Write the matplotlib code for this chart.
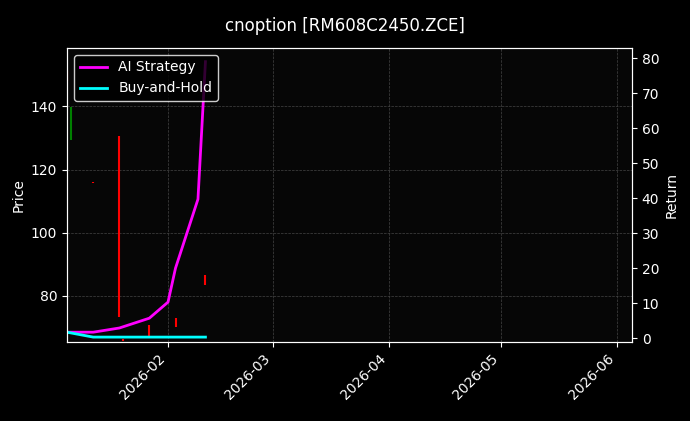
import matplotlib
matplotlib.use("Agg")
import matplotlib.pyplot as plt
import matplotlib.dates as mdates
import pandas as pd

candle_dates = pd.to_datetime(["2026-01-05","2026-01-06","2026-01-12","2026-01-19","2026-01-20","2026-01-27","2026-02-03","2026-02-11"])
candle_high = [151.3,139.7,116.0,130.5,66.3,70.9,73.0,86.7]
candle_low = [148.1,129.5,115.7,73.3,65.7,67.4,70.0,83.5]
candle_up = [False,True,False,False,False,False,False,False]

line_dates = pd.to_datetime(["2026-01-05","2026-01-12","2026-01-19","2026-01-27","2026-02-01","2026-02-03","2026-02-09","2026-02-11"])
ai_return = [1.7,1.7,2.9,5.7,10.3,20.0,39.7,79.0]
bh_return = [1.7,0.3,0.3,0.3,0.3,0.3,0.3,0.3]

plt.style.use("dark_background")
fig = plt.figure(figsize=(6.9,4.21), dpi=100)
ax = fig.add_axes([67/690, 1-342/421, (632-67)/690, (342-48)/421])
ax.set_facecolor("#060606")
fig.patch.set_facecolor("black")
for d,h,l,u in zip(candle_dates,candle_high,candle_low,candle_up):
    ax.vlines(d, l, h, color="green" if u else "red", linewidth=1.5)
ax.set_ylim(65.4,158.5)
ax.set_xlim(pd.Timestamp("2026-01-05"), pd.Timestamp("2026-06-05"))
ax.set_ylabel("Price")
ax.grid(True, color="#444444", linestyle="--", linewidth=0.5)
ax.xaxis.set_major_locator(mdates.MonthLocator())
ax.xaxis.set_major_formatter(mdates.DateFormatter("%Y-%m"))
plt.setp(ax.get_xticklabels(), rotation=45, ha="right")
ax2 = ax.twinx()
ax2.plot(line_dates, ai_return, color="#ff00ff", linewidth=2, label="AI Strategy")
ax2.plot(line_dates, bh_return, color="cyan", linewidth=2, label="Buy-and-Hold")
ax2.set_ylim(-1.1,82.9)
ax2.set_ylabel("Return")
ax2.legend(loc="upper left", facecolor="black", edgecolor="white")
fig.suptitle("cnoption [RM608C2450.ZCE]", y=0.96)
fig.savefig("out.png", dpi=100)
